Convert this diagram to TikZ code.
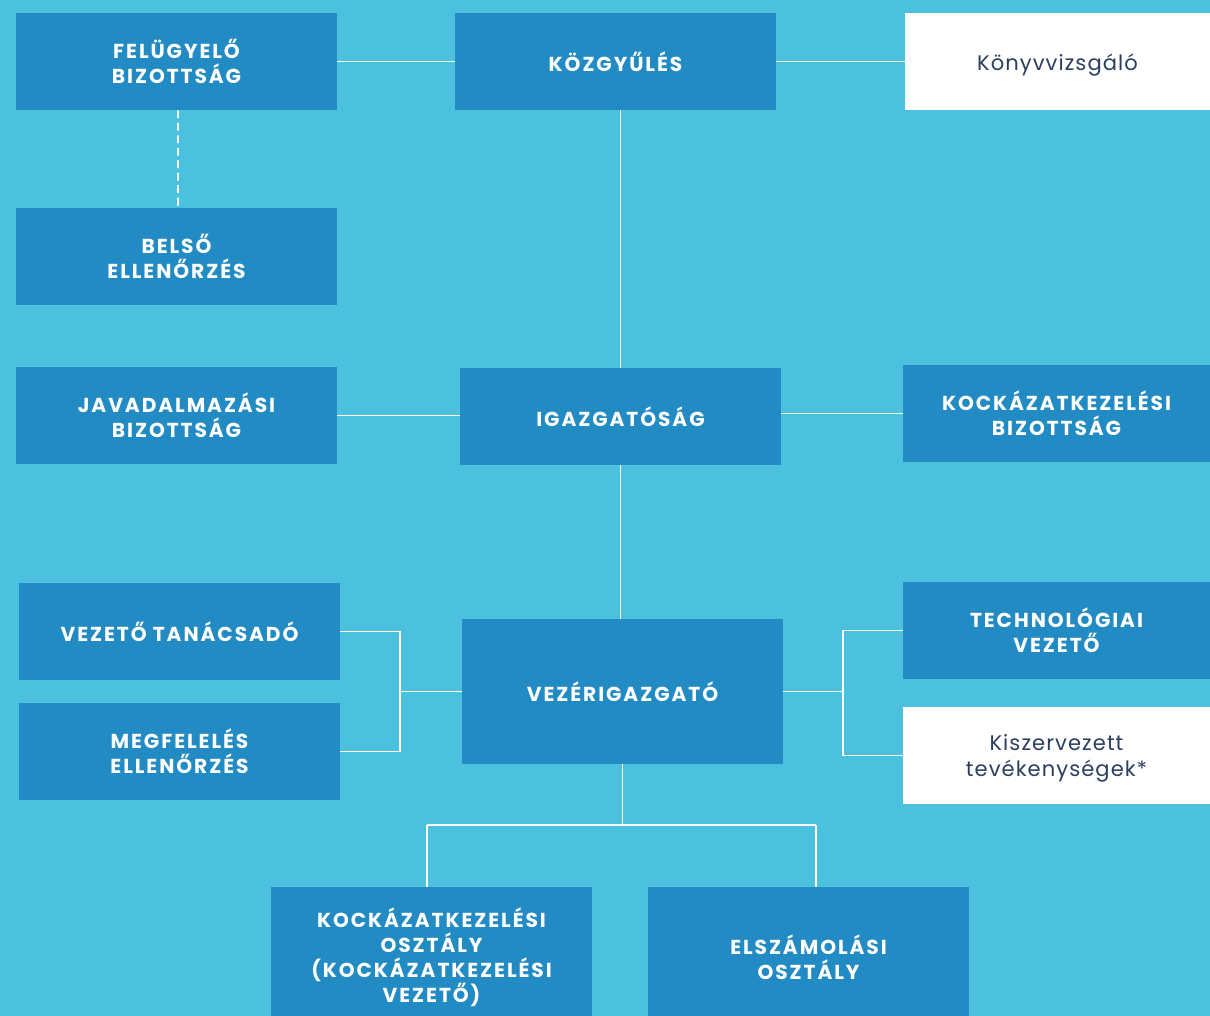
\documentclass[tikz,border=0pt]{standalone}
\usepackage{fontspec}
\setmainfont{Poppins}
\newfontfamily\unitfont{Poppins}[LetterSpace=9.5]
\newfontfamily\plainfont{Poppins}[LetterSpace=5]
\usetikzlibrary{positioning}

\definecolor{bgblue}{HTML}{4BC0DF}
\definecolor{boxblue}{HTML}{228BC3}
\definecolor{navytext}{HTML}{2D3F5E}

\begin{document}
\begin{tikzpicture}[x=0.02cm, y=-0.02cm,
    unit/.style={fill=boxblue, text=white, align=center,
      minimum width=6.42cm, minimum height=1.94cm, inner sep=0pt,
      font=\unitfont\fontsize{11.5}{14.2}\selectfont\bfseries},
    outside/.style={fill=white, text=navytext, align=center,
      minimum width=6.1cm, minimum height=1.94cm, inner sep=0pt,
      font=\plainfont\fontsize{12}{14.6}\selectfont},
    link/.style={draw=white, line width=1.1pt}]
    % background and frame
    \fill [bgblue] (0,0) rectangle (1210,1016);
    \useasboundingbox (0,0) rectangle (1210,1016);

    % top row
    \node [unit] (fb) at (176.5,61.5) {FELÜGYELŐ\\BIZOTTSÁG};
    \node [unit] (kgy) at (615.5,61.5) {KÖZGYŰLÉS};
    \node [outside] (konyv) at (1057.5,61.5) {\raisebox{-2pt}[\height][\depth]{Könyvvizsgáló}};
    \node [unit] (belso) at (176.5,256.5) {BELSŐ\\ELLENŐRZÉS};

    % board level
    \node [unit] (javad) at (176.5,415.5) {JAVADALMAZÁSI\\BIZOTTSÁG};
    \node [unit] (igazg) at (620.5,416.5) {IGAZGATÓSÁG};
    \node [unit, minimum width=6.14cm] (kockbiz) at (1056.5,413.5) {KOCKÁZATKEZELÉSI\\BIZOTTSÁG};

    % management level
    \node [unit] (tanacs) at (179.5,631.5) {VEZETŐ TANÁCSADÓ};
    \node [unit] (megfel) at (179.5,751.5) {MEGFELELÉS\\ELLENŐRZÉS};
    \node [unit, minimum height=2.9cm] (vezig) at (622.5,691.5) {VEZÉRIGAZGATÓ};
    \node [unit, minimum width=6.14cm] (tech) at (1056.5,630.5) {TECHNOLÓGIAI\\VEZETŐ};
    \node [outside, minimum width=6.14cm, text depth=0pt] (kisz) at (1056.5,755.5) {Kiszervezett\\tevékenységek*};

    % departments
    \node [unit, minimum height=2.8cm] (kockoszt) at (431.5,957) {KOCKÁZATKEZELÉSI\\OSZTÁLY\\(KOCKÁZATKEZELÉSI\\VEZETŐ)};
    \node [unit, minimum height=2.8cm] (elsz) at (808.5,957) {ELSZÁMOLÁSI\\OSZTÁLY};

    \coordinate (lj) at (400,691.5);
    \coordinate (rj) at (843,691.5);
    \coordinate (bl) at (427,825);
    \coordinate (br) at (816,825);

    \draw [link] (fb.east) -- (kgy.west);
    \draw [link] (kgy.east) -- (konyv.west);
    \draw [link, dash pattern=on 4.5pt off 2.6pt] (fb.south) ++(1.5,0) -- (belso.north -| 178,0);
    \draw [link] (kgy.south -| igazg.north) -- (igazg.north);
    \draw [link] (javad.east) -- (javad.east -| igazg.west);
    \draw [link] (kockbiz.west) -- (kockbiz.west -| igazg.east);
    \draw [link] (igazg.south) -- (igazg.south |- vezig.north);
    \draw [link] (tanacs.east) -| (lj) |- (megfel.east);
    \draw [link] (lj) -- (vezig.west);
    \draw [link] (tech.west) -| (rj) |- (kisz.west);
    \draw [link] (rj) -- (vezig.east);
    \draw [link] (vezig.south) -- (vezig.south |- bl);
    \draw [link] (bl) -- (br);
    \draw [link] (bl) -- (bl |- kockoszt.north);
    \draw [link] (br) -- (br |- elsz.north);
\end{tikzpicture}
\end{document}
